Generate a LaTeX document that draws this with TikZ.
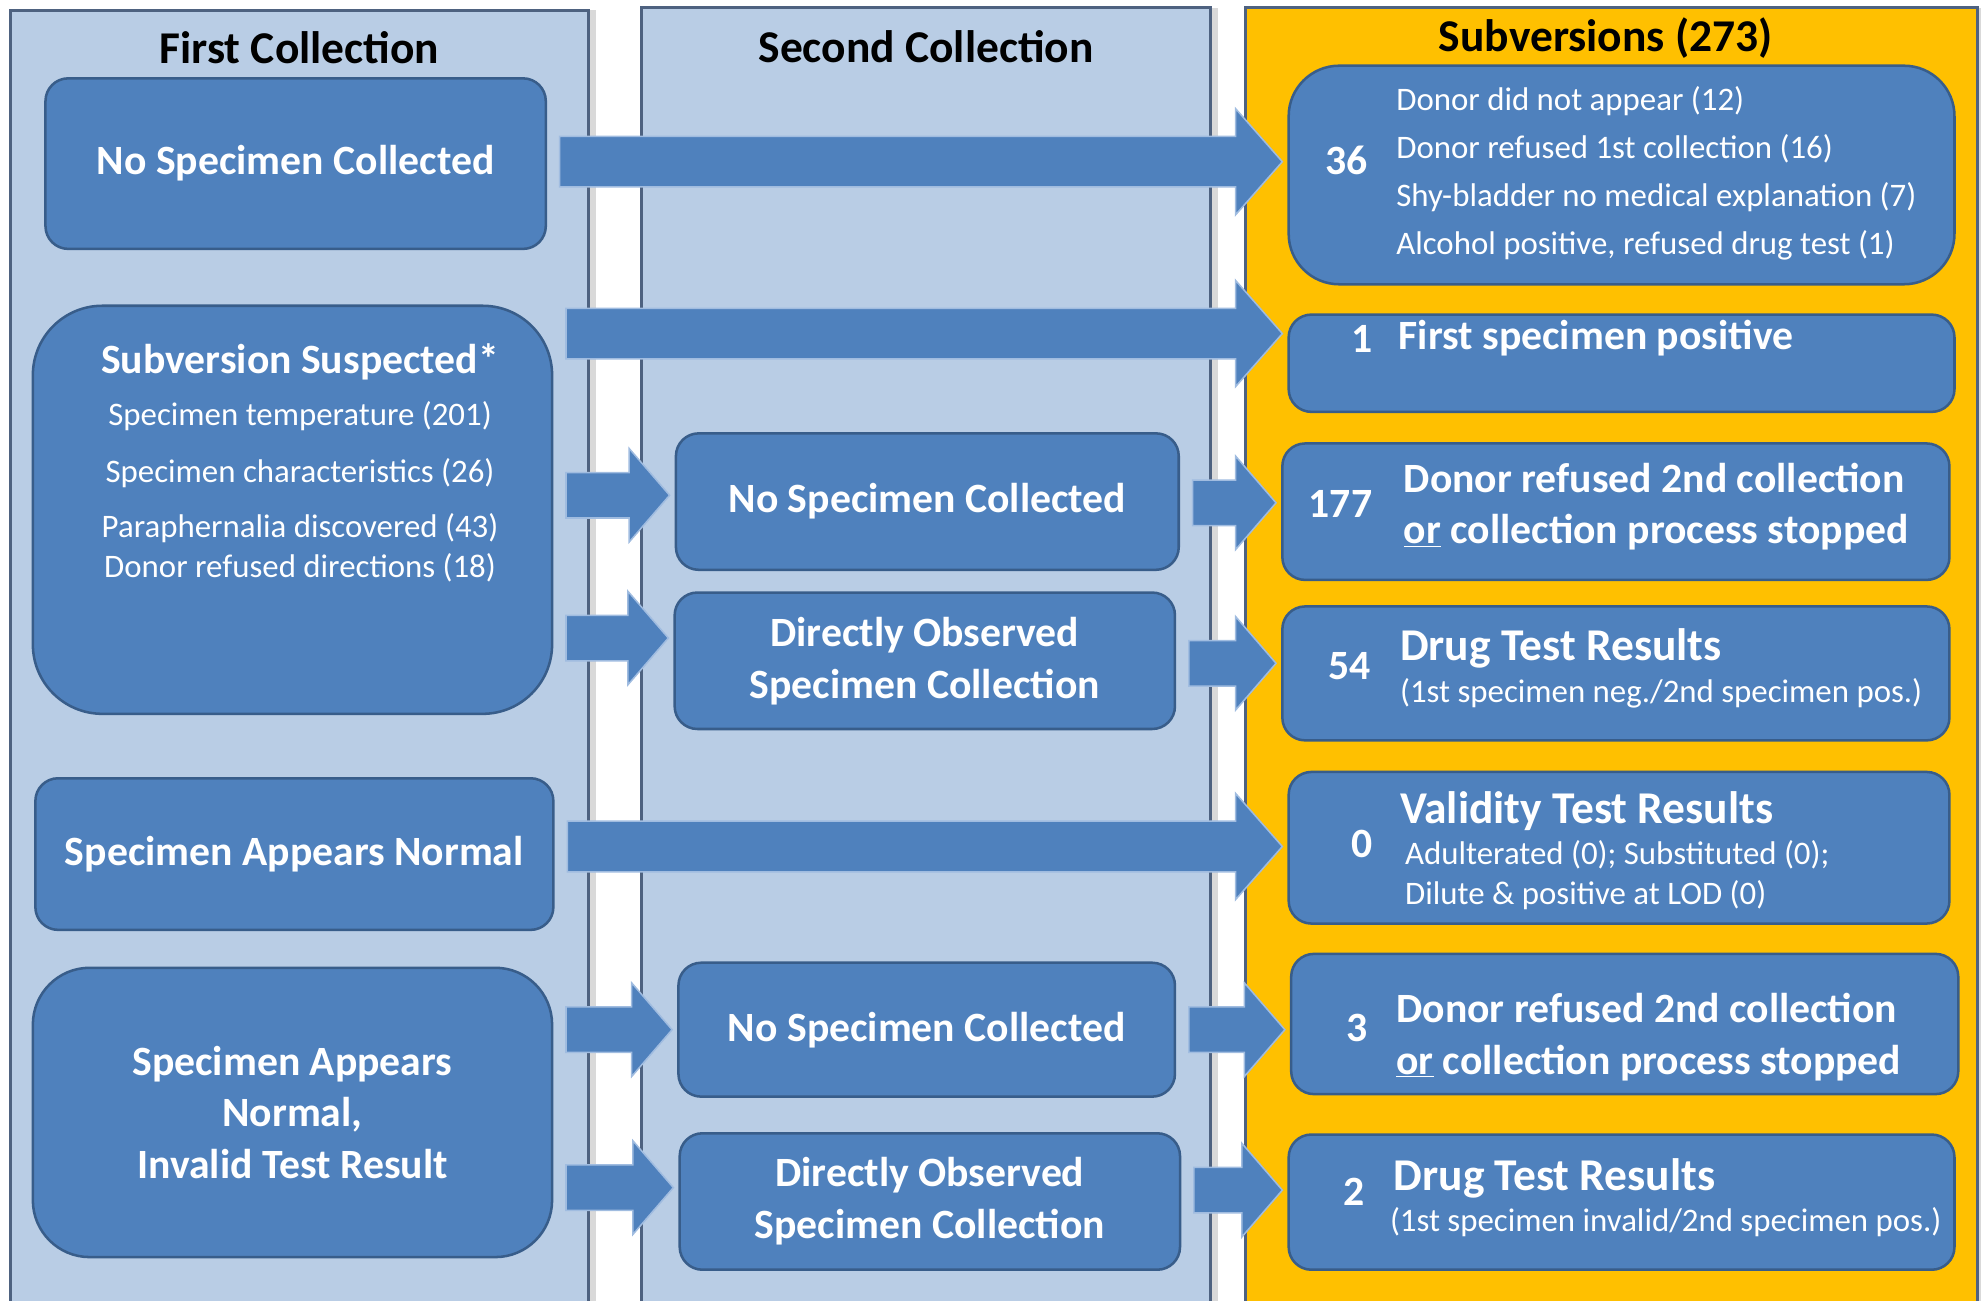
\documentclass[tikz,border=0pt]{standalone}
\usepackage{fontspec}
\setmainfont{Carlito}
\usetikzlibrary{calc,positioning,shadows}

\definecolor{boxblue}{RGB}{79,129,189}
\definecolor{boxline}{RGB}{56,93,138}
\definecolor{panelblue}{RGB}{185,205,229}
\definecolor{panelline}{RGB}{78,98,128}
\definecolor{gold}{RGB}{255,192,0}
\definecolor{arrowline}{RGB}{160,188,224}

\newcommand{\fntbox}{\fontsize{33}{41}\selectfont\bfseries}
\newcommand{\fnthead}{\fontsize{36}{44}\selectfont\bfseries}
\newcommand{\fntsmall}{\fontsize{26}{31}\selectfont}
\newcommand{\fntlist}{\fontsize{26}{38}\selectfont}
\newcommand{\fntnote}{\fontsize{26}{33}\selectfont}

% block arrow: from, to, y, half shaft, half head, head length
\newcommand{\flowarrow}[6]{%
\draw[flow] let \p1=(#1.east), \p2=(#2.west), \p3=(0,#3) in
 (\x1+10pt,\y3+#4pt) -- (\x2-4pt-#6pt,\y3+#4pt) -- (\x2-4pt-#6pt,\y3+#5pt) -- (\x2-4pt,\y3)
 -- (\x2-4pt-#6pt,\y3-#5pt) -- (\x2-4pt-#6pt,\y3-#4pt) -- (\x1+10pt,\y3-#4pt) -- cycle;}

\begin{document}
\begin{tikzpicture}[x=1pt,y=-1pt,
panel/.style={draw=panelline,line width=2.5pt,fill=panelblue,drop shadow={shadow xshift=6pt,shadow yshift=0pt,opacity=.3}},
box/.style={draw=boxline,line width=2pt,fill=boxblue,rounded corners=18pt,text=white,font=\fntbox,align=center,inner sep=0pt},
coltitle/.style={font=\fnthead,text=black},
num/.style={font=\fntbox,text=white},
info/.style={text=white,align=left,anchor=west,inner sep=0pt},
flow/.style={fill=boxblue,draw=arrowline,line width=1.2pt},
]
\useasboundingbox (0,0) rectangle (1568,1029);

% columns
\draw[panel] (8,8) rectangle (466,1040);
\draw[panel] (508,6) rectangle (958,1040);
\draw[panel,fill=gold] (986,6) rectangle (1565,1040);
\node[coltitle] (t1) at (237,38) {First Collection};
\node[coltitle] (t2) at (733,37) {Second Collection};
\node[coltitle] (t3) at (1271,30) {Subversions (273)};

% first collection
\node[box,minimum width=396pt,minimum height=135pt] (a1) at (234,129.5) {No Specimen Collected};
\node[box,rounded corners=55pt,minimum width=411pt,minimum height=323pt] (a2) at (231.5,403.5) {};
\node[info,anchor=north,align=center,font=\fntsmall] (a2t) at ($(a2.north)+(6,31)$)
 {{\fntbox Subversion Suspected*}\\[10pt]
  Specimen temperature (201)\\[14pt]
  Specimen characteristics (26)\\[13pt]
  Paraphernalia discovered (43)\\
  Donor refused directions (18)};
\node[box,minimum width=410pt,minimum height=120pt] (a3) at (233,676) {Specimen Appears Normal};
\node[box,rounded corners=45pt,minimum width=411pt,minimum height=229pt] (a4) at (231.5,880.5)
 {Specimen Appears\\Normal,\\Invalid Test Result};

% second collection
\node[box,minimum width=398pt,minimum height=108pt] (b1) at (734,397) {No Specimen Collected};
\node[box,minimum width=396pt,minimum height=108pt] (b2) at (732,523) {Directly Observed\\Specimen Collection};
\node[box,minimum width=393pt,minimum height=106pt] (b3) at (733.5,815) {No Specimen Collected};
\node[box,minimum width=396pt,minimum height=108pt] (b4) at (736,951) {Directly Observed\\Specimen Collection};

% subversions
\node[box,rounded corners=40pt,minimum width=527pt,minimum height=173pt] (c1) at (1283.5,138.5) {};
\node[num] (c1n) at (1066,127) {36};
\node[info,font=\fntlist] (c1t) at (1105,137)
 {Donor did not appear (12)\\Donor refused 1st collection (16)\\Shy-bladder no medical explanation (7)\\Alcohol positive, refused drug test (1)};

\node[box,minimum width=527pt,minimum height=77pt] (c2) at (1283.5,287.5) {};
\node[num] (c2n) at (1078,268) {1};
\node[info,font=\fntbox] (c2t) at (1107,268) {First specimen positive};

\node[box,minimum width=528pt,minimum height=108pt] (c3) at (1279,405) {};
\node[num] (c3n) at (1061,399) {177};
\node[info,font=\fntbox] (c3t) at (1111,401) {Donor refused 2nd collection\\\underline{or} collection process stopped};

\node[box,minimum width=528pt,minimum height=106pt] (c4) at (1279,533) {};
\node[num] (c4n) at (1068,527) {54};
\node[info,font=\fntnote] (c4t) at (1108,529) {{\fnthead Drug Test Results}\\(1st specimen neg./2nd specimen pos.)};

\node[box,minimum width=523pt,minimum height=120pt] (c5) at (1281.5,671) {};
\node[num] (c5n) at (1078,668) {0};
\node[info,font=\fntsmall] (c5t) at (1108,673)
 {{\fnthead Validity Test Results}\\[2pt]\hspace{4pt}Adulterated (0); Substituted (0);\\\hspace{4pt}Dilute \& positive at LOD (0)};

\node[box,minimum width=528pt,minimum height=111pt] (c6) at (1286,810.5) {};
\node[num] (c6n) at (1074,814) {3};
\node[info,font=\fntbox] (c6t) at (1105,821) {Donor refused 2nd collection\\\underline{or} collection process stopped};

\node[box,minimum width=527pt,minimum height=107pt] (c7) at (1283.5,951.5) {};
\node[num] (c7n) at (1072,943) {2};
\node[info,font=\fntnote] (c7t) at (1100,948) {\hspace{3pt}{\fnthead Drug Test Results}\\(1st specimen invalid/2nd specimen pos.)};

% arrows
\flowarrow{a1}{c1}{128}{20}{42}{37}
\flowarrow{a2}{c2}{264}{20}{42}{37}
\flowarrow{a3}{c5}{670}{20}{42}{37}
\flowarrow{a2}{b1}{392}{18}{37}{32}
\flowarrow{a2}{b2}{505}{18}{37}{32}
\flowarrow{b1}{c3}{398}{18}{37}{32}
\flowarrow{b2}{c4}{525}{18}{37}{32}
\flowarrow{a4}{b3}{815}{18}{37}{32}
\flowarrow{a4}{b4}{940}{18}{37}{32}
\flowarrow{b3}{c6}{815}{18}{37}{32}
\flowarrow{b4}{c7}{942}{18}{37}{32}
\end{tikzpicture}
\end{document}
